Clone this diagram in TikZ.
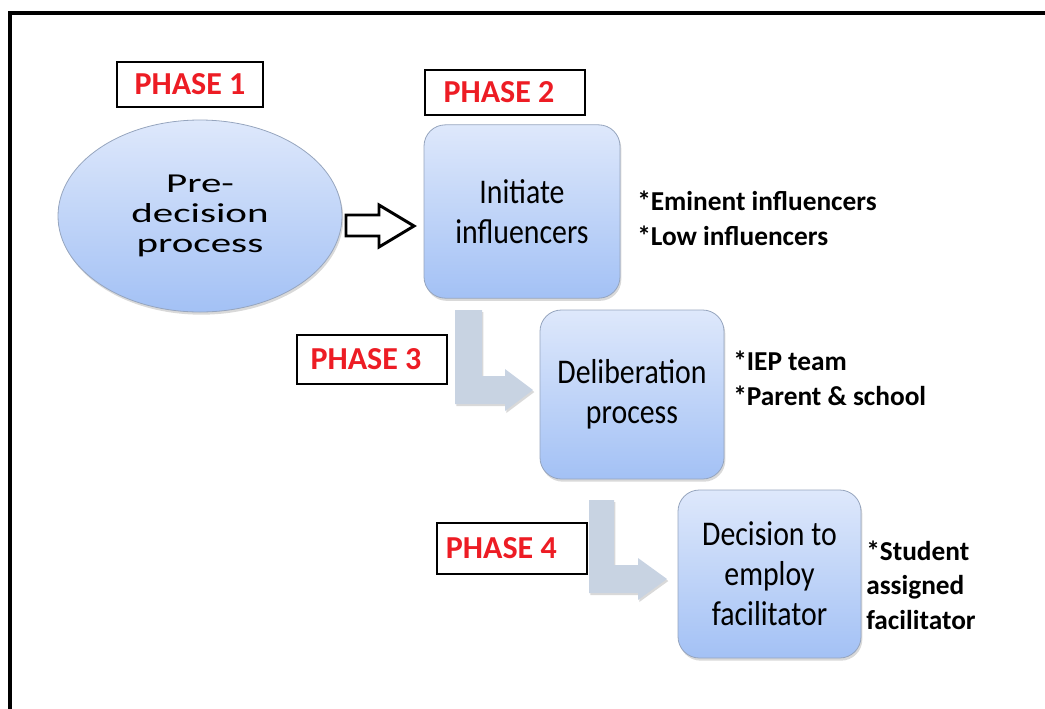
\documentclass[tikz,border=0pt]{standalone}
\usepackage{fontspec}
\setmainfont{Carlito}
\newfontfamily\widefont[FakeStretch=1.5]{Carlito}
\newfontfamily\boxfont[FakeStretch=0.86]{Carlito}
\usetikzlibrary{shapes.geometric, shadows}

\definecolor{phasered}{RGB}{237,28,36}
\definecolor{boxtop}{RGB}{222,232,251}
\definecolor{boxbot}{RGB}{163,193,245}
\definecolor{boxline}{RGB}{150,165,190}
\definecolor{turnarrow}{RGB}{200,211,226}

\tikzset{
  phasebox/.style={draw=black, line width=2.2pt, fill=white, text=phasered,
    font=\bfseries\fontsize{24}{26}\selectfont, inner sep=0pt},
  stepbox/.style={rounded corners=16pt, draw=boxline, line width=0.6pt,
    top color=boxtop, bottom color=boxbot, align=center, inner sep=0pt,
    font=\boxfont\fontsize{26}{30}\selectfont,
    drop shadow={shadow xshift=1pt, shadow yshift=-2pt, opacity=0.3, fill=gray}},
  notes/.style={anchor=west, align=left, inner sep=0pt,
    font=\bfseries\fontsize{20.5}{26}\selectfont},
  turn/.style={fill=turnarrow,
    drop shadow={shadow xshift=1pt, shadow yshift=-1.5pt, opacity=0.3, fill=gray}}
}

\begin{document}
\begin{tikzpicture}[x=0.75pt, y=-0.75pt]
    \useasboundingbox (0,0) rectangle (1045,708);
    % frame
    \draw [line width=3pt] (1060,13) -- (9.5,13) -- (9.5,720);

    % phase labels
    \node (p1) [phasebox, minimum width=109.5pt, minimum height=33.75pt] at (190,84.5) {PHASE 1};
    \node (p2) [phasebox, minimum width=120pt, minimum height=33.75pt] at (505,92.5) {PHASE 2\hspace*{9pt}};
    \node (p3) [phasebox, minimum width=112.5pt, minimum height=36.75pt] at (372,359.5) {PHASE 3\hspace*{9pt}};
    \node (p4) [phasebox, minimum width=112.5pt, minimum height=38.25pt] at (512,548.5) {PHASE 4\hspace*{16pt}};

    % stages
    \node (pre) [ellipse, draw=boxline, line width=0.6pt, top color=boxtop, bottom color=boxbot,
      minimum width=213pt, minimum height=144pt, align=center, inner sep=0pt,
      font=\widefont\fontsize{20.5}{22.5}\selectfont,
      drop shadow={shadow xshift=1pt, shadow yshift=-2pt, opacity=0.3, fill=gray}]
      at (200,216) {Pre-\\decision\\process};
    \node (init) [stepbox, minimum width=147pt, minimum height=130pt] at (522,211.5) {Initiate\\influencers};
    \node (delib) [stepbox, minimum width=138pt, minimum height=126.75pt] at (632,394.5) {Deliberation\\process};
    \node (decide) [stepbox, minimum width=137.25pt, minimum height=126pt] at (769.5,574) {Decision to\\employ\\facilitator};

    % notes
    \node (n2) [notes] at (637,218) {*Eminent influencers\\*Low influencers};
    \node (n3) [notes] at (733,378) {*IEP team\\*Parent \& school};
    \node (n4) [notes] at (866,585) {*Student\\assigned\\facilitator};

    % arrows
    \draw [line width=2.2pt, fill=white, line join=miter]
      (346,215) -- (379,215) -- (379,205) -- (414,226) -- (379,247) -- (379,236) -- (346,236) -- cycle;
    \path [turn] (455,310) -- (482,310) -- (482,376) -- (505,376) -- (505,369)
      -- (533,390) -- (505,411) -- (505,404) -- (455,404) -- cycle;
    \path [turn] (589,500) -- (614,500) -- (614,565) -- (638,565) -- (638,558)
      -- (667,579) -- (638,600) -- (638,593) -- (589,593) -- cycle;
\end{tikzpicture}
\end{document}
